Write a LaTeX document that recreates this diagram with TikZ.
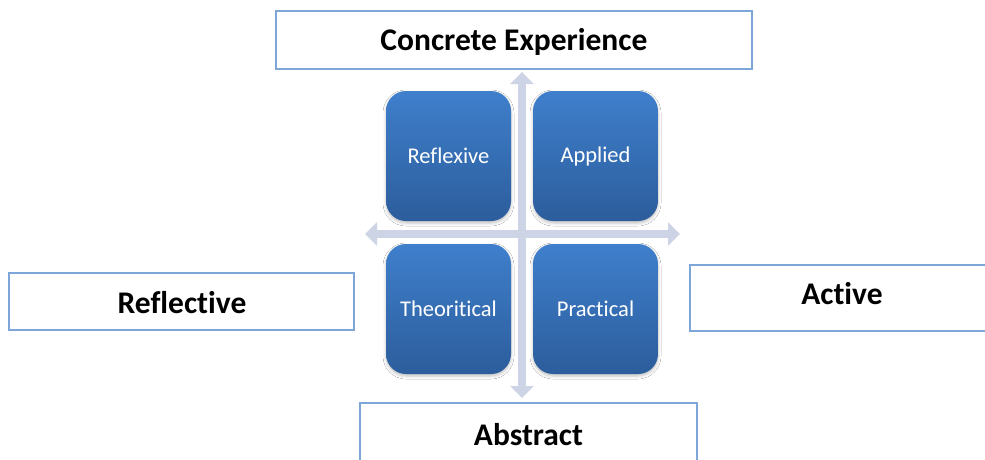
\documentclass[tikz,border=0pt]{standalone}
\usepackage{fontspec}
\setmainfont{Carlito}[Ligatures=NoCommon]
\usetikzlibrary{arrows.meta,shadows.blur}
\definecolor{boxline}{HTML}{7EA6D8}
\definecolor{sqtop}{HTML}{3F7FCC}
\definecolor{sqbot}{HTML}{2C5D9C}
\definecolor{axiscol}{HTML}{CDD4E6}
\tikzset{
  label font/.style={font=\fontsize{31.5}{34}\selectfont\bfseries, text=black},
  label box/.style={draw=boxline, line width=1.2pt, fill=white, inner sep=0pt, label font},
  quad/.style={rounded corners=20pt, minimum width=125pt, minimum height=130pt,
    inner sep=0pt, top color=sqtop, bottom color=sqbot, draw=none,
    text=white, font=\fontsize{22.5}{25}\selectfont,
    blur shadow={shadow xshift=0pt, shadow yshift=-2pt, shadow blur radius=3pt, shadow opacity=25}},
  axis/.style={draw=axiscol, line width=8pt,
    {Triangle[width=23pt,length=12pt]}-{Triangle[width=23pt,length=12pt]}}
}
\begin{document}
\begin{tikzpicture}[x=1pt,y=-1pt]
\useasboundingbox (0,0) rectangle (985,459);
\clip (0,0) rectangle (985,459);
\fill[white] (0,0) rectangle (985,459);
% label boxes
\node[label box, minimum width=476pt, minimum height=58pt] (ce) at (514,40) {};
\node[label font] (cet) at (514,42) {Concrete Experience};
\node[label box, minimum width=345pt, minimum height=57pt] (refl) at (181.5,301.5) {};
\node[label font] (reflt) at (182,303) {Reflective};
\node[label box, minimum width=304pt, minimum height=66pt] (act) at (842,298) {};
\node[label font] (actt) at (842,294) {Active};
\node[label box, minimum width=337pt, minimum height=64pt] (abs) at (528.5,435) {};
\node[label font] (abst) at (528.5,435) {Abstract};
% axes
\coordinate (vt) at (522,72);
\coordinate (vb) at (522,398);
\coordinate (hl) at (365,234);
\coordinate (hr) at (680,234);
\draw[axis] (hl) -- (hr);
\draw[axis] (vt) -- (vb);
% quadrants
\node[quad] (q1) at (448.5,156) {Reflexive};
\node[quad] (q2) at (595.5,156) {Applied};
\node[quad] (q3) at (448.5,309) {Theoritical};
\node[quad] (q4) at (595.5,309) {Practical};
\end{tikzpicture}
\end{document}
